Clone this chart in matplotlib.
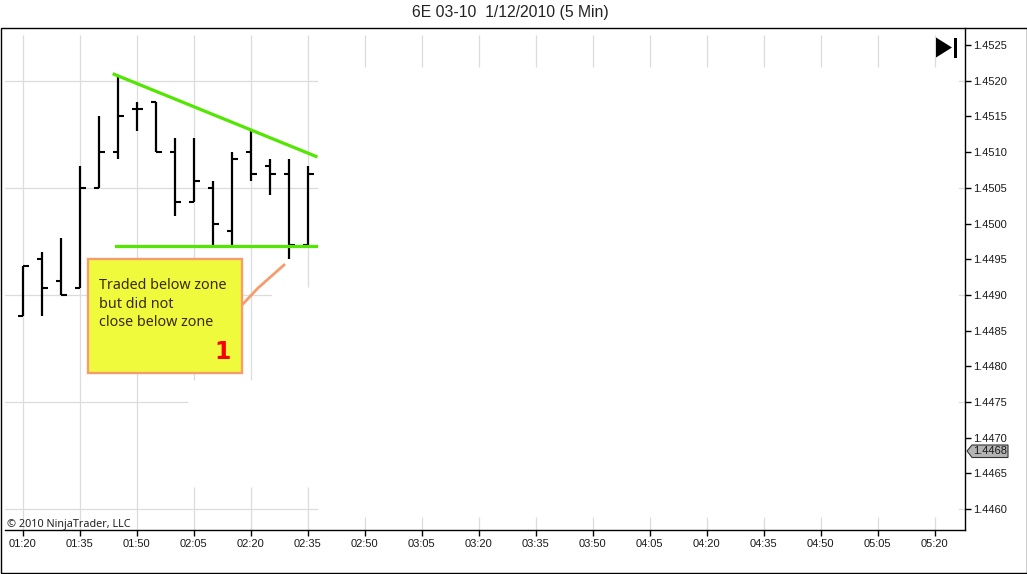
import matplotlib
matplotlib.use("Agg")
import matplotlib.pyplot as plt
from matplotlib.patches import Polygon, Rectangle
from matplotlib.lines import Line2D
from matplotlib.transforms import Affine2D, ScaledTranslation

W, H = 1027, 574

# --- data -----------------------------------------------------------------
times_min = [80, 85, 90, 95, 100, 105, 110, 115, 120, 125, 130, 135, 140, 145, 150, 155]
opens  = [1.4487, 1.4495, 1.4492, 1.4491, 1.4505, 1.4510, 1.4516, 1.4517,
          1.4510, 1.4503, 1.4505, 1.4499, 1.4510, 1.4508, 1.4507, 1.4497]
highs  = [1.4494, 1.4496, 1.4498, 1.4508, 1.4515, 1.45205, 1.4517, 1.4517,
          1.4512, 1.4512, 1.4506, 1.4510, 1.4513, 1.4509, 1.4509, 1.4508]
lows   = [1.4487, 1.4487, 1.4490, 1.4491, 1.4505, 1.4509, 1.4513, 1.4510,
          1.4501, 1.4503, 1.4497, 1.4497, 1.4506, 1.4504, 1.4495, 1.4497]
closes = [1.4494, 1.4491, 1.4490, 1.4505, 1.4510, 1.4515, 1.4516, 1.4510,
          1.4503, 1.4506, 1.4500, 1.4509, 1.4507, 1.4507, 1.4497, 1.4507]

x_tick_min = list(range(80, 321, 15))
x_tick_labels = ["01:20", "01:35", "01:50", "02:05", "02:20", "02:35", "02:50", "03:05", "03:20",
                 "03:35", "03:50", "04:05", "04:20", "04:35", "04:50", "05:05", "05:20"]
y_ticks = [1.4525, 1.4520, 1.4515, 1.4510, 1.4505, 1.4500, 1.4495, 1.4490,
           1.4485, 1.4480, 1.4475, 1.4470, 1.4465, 1.4460]
grid_prices = [1.4520, 1.4505, 1.4490, 1.4475, 1.4460]

resistance_t = [103.9, 157.0]
resistance_p = [1.45209, 1.45094]
support_t = [104.4, 157.0]
support_p = [1.44968, 1.44968]
last_price = 1.4468

title = "6E 03-10  1/12/2010 (5 Min)"
note = "Traded below zone\nbut did not\nclose below zone"
note_number = "1"
copyright_text = "\u00a9 2010 NinjaTrader, LLC"

# --- layout ---------------------------------------------------------------
SANS = ["Liberation Sans", "DejaVu Sans"]
plt.rcParams["font.family"] = SANS
fig = plt.figure(figsize=(W / 100, H / 100), dpi=100, facecolor="white")
px = Affine2D().scale(1 / W, -1 / H).translate(0, 1) + fig.transFigure

L, R, T, B = 5, 965, 28, 530
ax = fig.add_axes([L / W, 1 - B / H, (R - L) / W, (B - T) / H])

def x_of_px(p):
    return 80 + (p - 23.3) / 3.8

def y_of_px(p):
    return 1.4520 - (p - 80.7) / 35.7 * 0.0005

ax.set_xlim(x_of_px(L), x_of_px(R))
ax.set_ylim(y_of_px(B), y_of_px(T))
for s in ("top", "left"):
    ax.spines[s].set_visible(False)
for s in ("right", "bottom"):
    ax.spines[s].set_linewidth(1.0)
    ax.spines[s].set_color("black")
ax.yaxis.tick_right()
ax.set_xticks(x_tick_min, x_tick_labels)
ax.set_yticks(y_ticks, [f"{v:.4f}" for v in y_ticks])
ax.tick_params(axis="x", length=4.3, width=1, pad=2.5, labelsize=8.0, labelcolor="#1a1a1a")
ax.tick_params(axis="y", length=4.3, width=1, pad=1.8, labelsize=8.0, labelcolor="#1a1a1a")
shift = ScaledTranslation(-1 / 100, 0, fig.dpi_scale_trans)
for lbl in ax.get_xticklabels():
    lbl.set_transform(lbl.get_transform() + shift)

# --- grid fragments -------------------------------------------------------
GRID = "#dcdcdc"
gw = 0.9
for i, t in enumerate(x_tick_min):
    if i < 3:
        spans = [(35, 530)]
    elif i < 5:
        spans = [(35, 380), (487, 530)]
    elif i == 5:
        spans = [(35, 287), (487, 530)]
    else:
        spans = [(35, 67), (517, 530)]
    for a, b in spans:
        ax.plot([t, t], [y_of_px(a), y_of_px(b)], color=GRID, lw=gw, zorder=1, solid_capstyle="butt")
for p, end in zip(grid_prices, [317, 317, 271, 187, 317]):
    ax.plot([x_of_px(5), x_of_px(end)], [p, p], color=GRID, lw=gw, zorder=1)
    ax.plot([x_of_px(959), x_of_px(965)], [p, p], color=GRID, lw=gw, zorder=1)

# --- OHLC bars ------------------------------------------------------------
stub = 1.45  # minutes (about 5.5 px)
for t, o, h, l, c in zip(times_min, opens, highs, lows, closes):
    ax.plot([t, t], [l, h], color="black", lw=1.6, zorder=3, solid_capstyle="butt")
    ax.plot([t - stub, t], [o, o], color="black", lw=1.5, zorder=3, solid_capstyle="butt")
    ax.plot([t, t + stub], [c, c], color="black", lw=1.5, zorder=3, solid_capstyle="butt")

# --- zone lines -----------------------------------------------------------
GREEN = "#52e600"
ax.plot(resistance_t, resistance_p, color=GREEN, lw=2.3, zorder=4)
ax.plot(support_t, support_p, color=GREEN, lw=2.3, zorder=4)

# --- callout --------------------------------------------------------------
ORANGE = "#f79c6c"
fig.add_artist(Line2D([242, 258, 284], [305, 288, 265], transform=px, color=ORANGE, lw=2.0, zorder=5))
fig.add_artist(Rectangle((88, 259), 154, 114, transform=px, facecolor="#f0fa3c",
                         edgecolor=ORANGE, lw=1.7, zorder=6))
fig.text(99, 304, note, transform=px, family="Noto Sans", fontsize=10.3, color="#3a2a05",
         va="center", ha="left", linespacing=1.3, zorder=7)
fig.text(223, 352, note_number, transform=px, family="DejaVu Sans", fontweight="bold", fontsize=17,
         color="#f80000", va="center", ha="center", zorder=7)

# --- other furniture ------------------------------------------------------
fig.text(510, 13, title, transform=px, fontsize=11.3, color="#222222", ha="center", va="center")
fig.text(7, 524, copyright_text, transform=px, family="Noto Sans", fontsize=7.8, color="#222222",
         ha="left", va="center", zorder=7)
fig.add_artist(Rectangle((1, 27.5), 1025.5, 545.5, transform=px, fill=False, edgecolor="black", lw=1.0))
fig.add_artist(Polygon([(936, 37.5), (952, 47.5), (936, 57.5)], transform=px, facecolor="black",
                       edgecolor="none", zorder=7))
fig.add_artist(Rectangle((953.5, 37.5), 3.5, 20, transform=px, facecolor="black", edgecolor="none", zorder=7))
fig.add_artist(Polygon([(967, 451), (972, 445), (1008, 445), (1008, 457.5), (972, 457.5)], transform=px,
                       facecolor="#b4b4b4", edgecolor="#333333", lw=0.8, zorder=7))
fig.text(1007, 451.5, f"{last_price:.4f}", transform=px, fontsize=8.0, color="#1a1a1a",
         ha="right", va="center", zorder=8)

fig.savefig("out.png", dpi=100)
